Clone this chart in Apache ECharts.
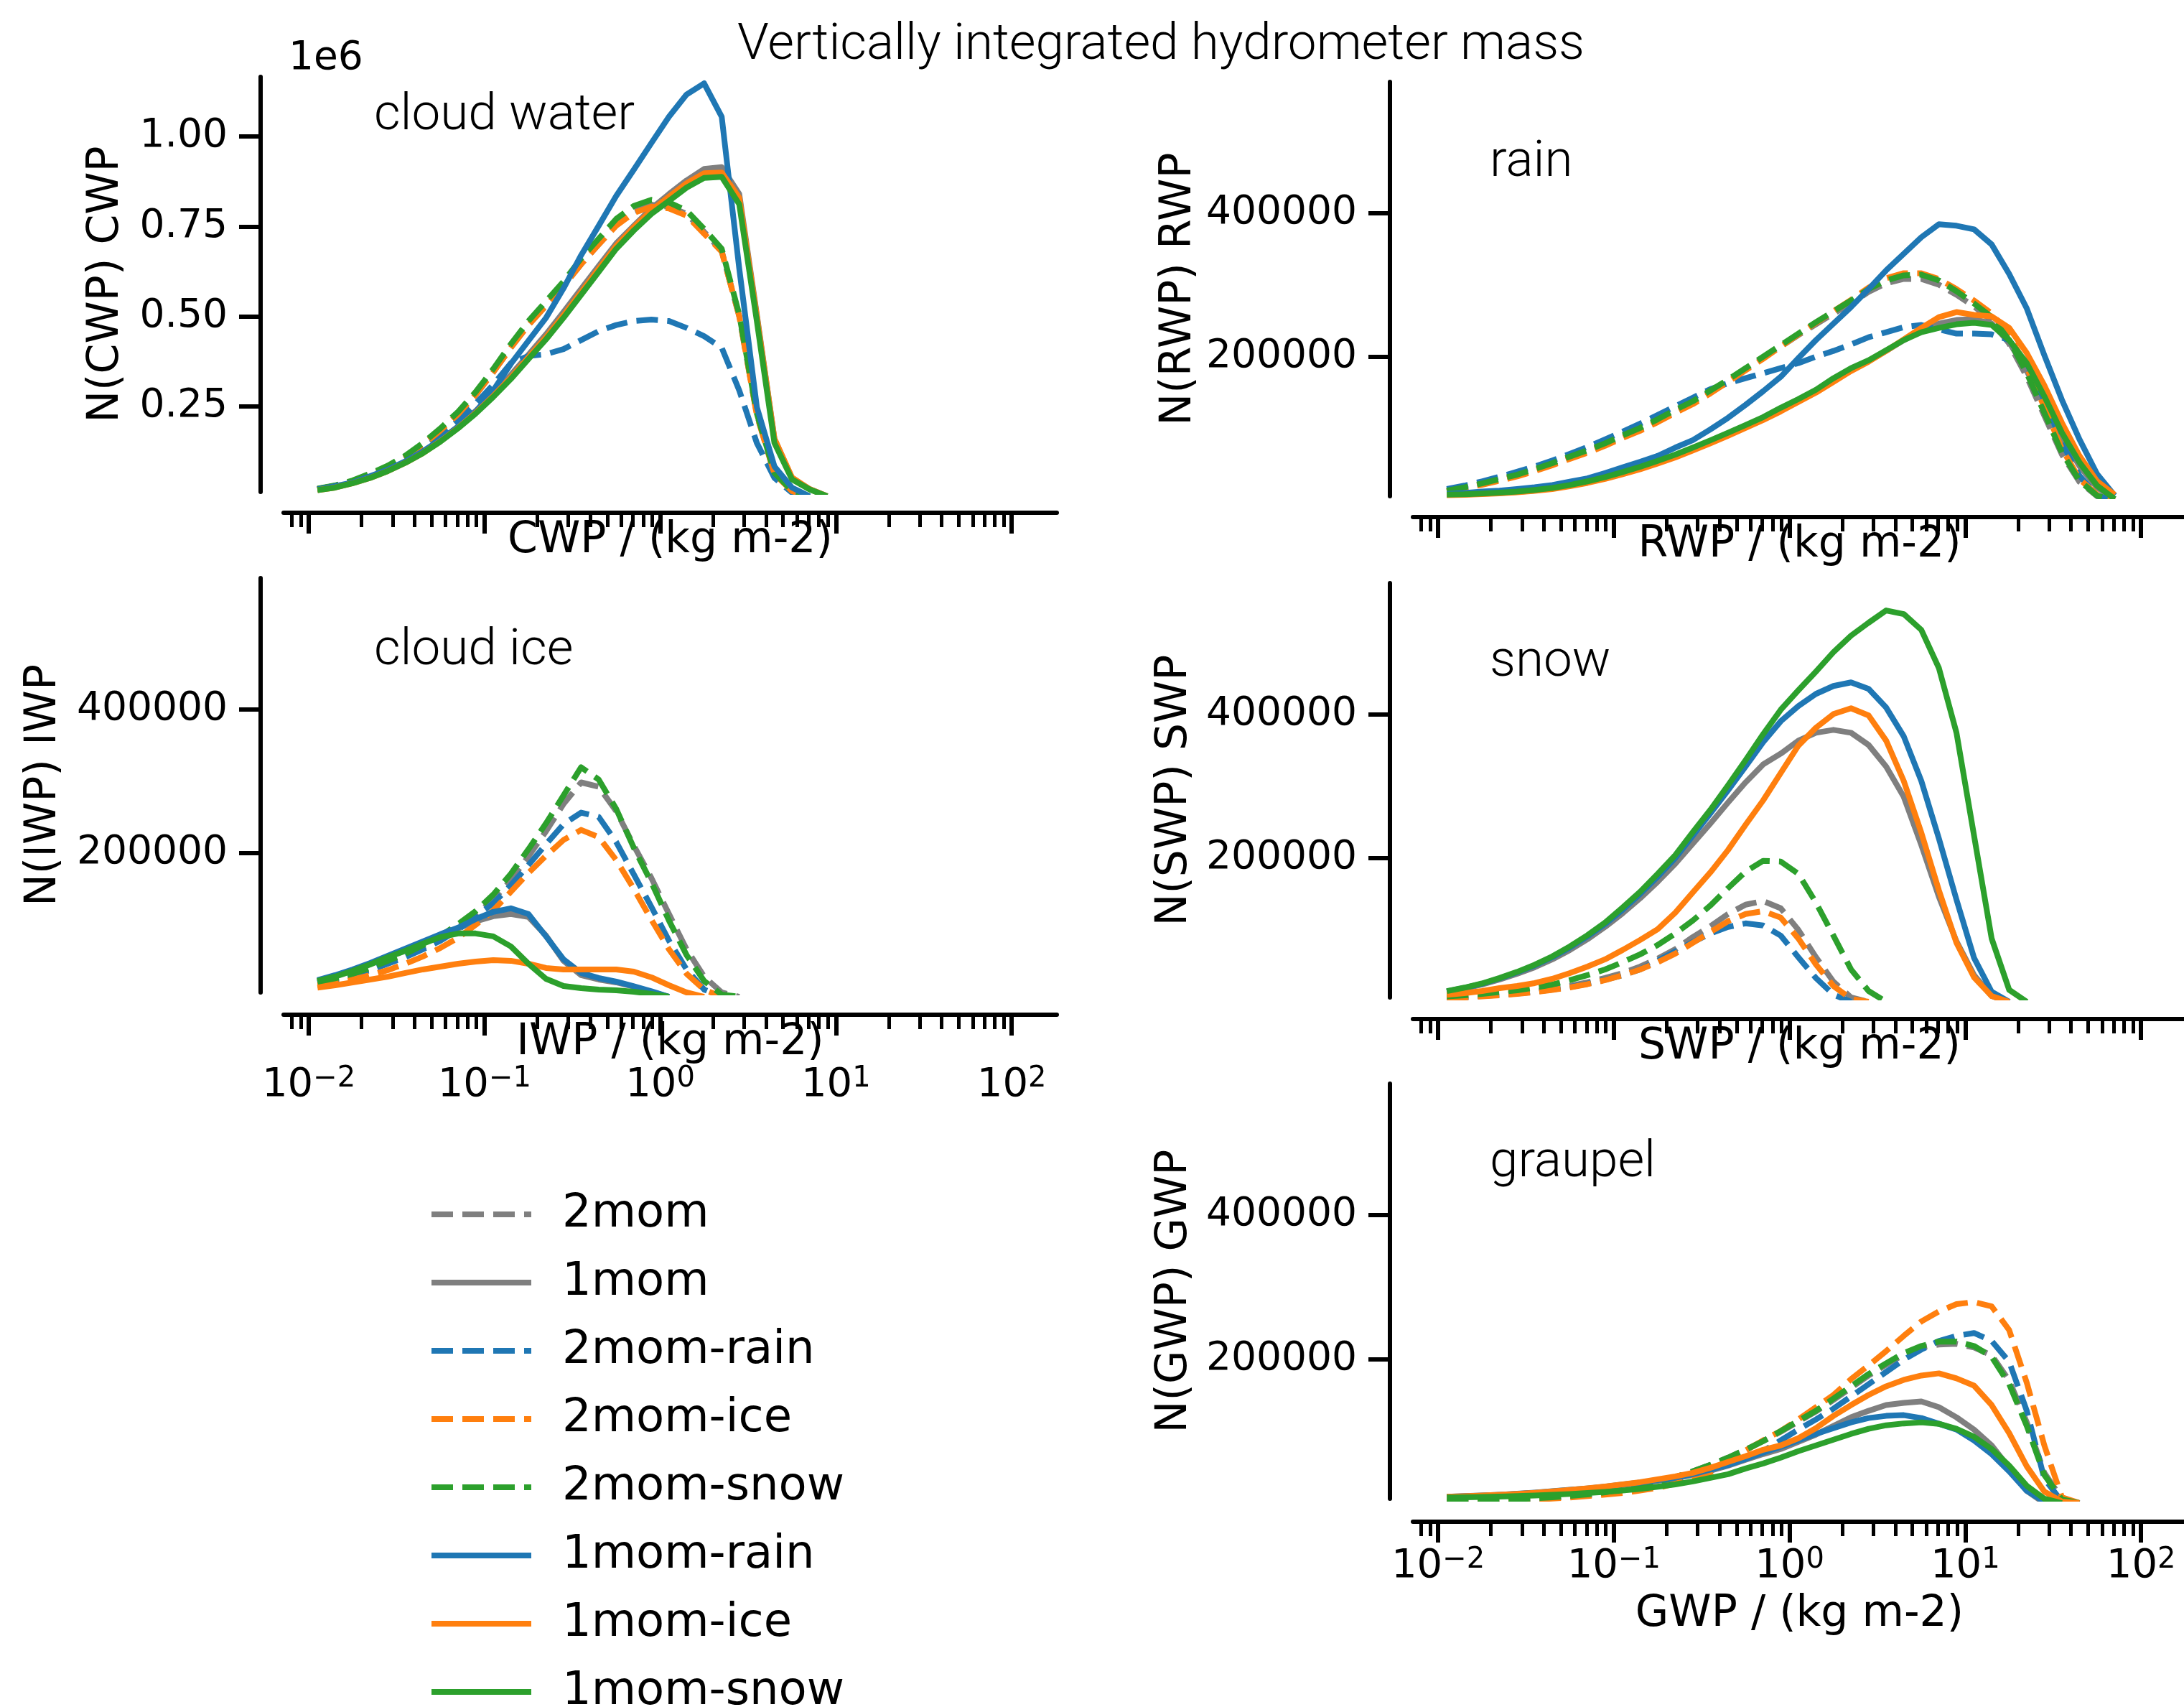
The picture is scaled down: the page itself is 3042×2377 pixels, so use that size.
<!DOCTYPE html>
<html>
<head>
<meta charset="utf-8">
<title>Vertically integrated hydrometer mass</title>
<script src="https://cdn.jsdelivr.net/npm/echarts@6/dist/echarts.min.js"></script>
<style>
  html, body { margin: 0; padding: 0; background: #fff; }
  #chart { width: 3042px; height: 2377px; }
</style>
</head>
<body>
<div id="chart"></div>
<script>
// bin centres in kg m-2 (0.1 decade apart)
const xBins = [0.01122, 0.01413, 0.01778, 0.02239, 0.02818, 0.03548, 0.04467, 0.05623, 0.07079, 0.08913,
  0.1122, 0.1413, 0.1778, 0.2239, 0.2818, 0.3548, 0.4467, 0.5623, 0.7079, 0.8913,
  1.122, 1.413, 1.778, 2.239, 2.818, 3.548, 4.467, 5.623, 7.079, 8.913,
  11.22, 14.13, 17.78, 22.39, 28.18, 35.48, 44.67, 56.23, 70.79];

// counts per bin, in thousands
// cloud water
const cwp2mom = [20, 29, 42, 60, 82, 109, 143, 183, 228, 282, 345, 413, 476, 530, 584, 645, 700, 755, 792, 810, 805, 785, 735, 682, 500, 228, 64, 15, 0];
const cwp1mom = [18, 25, 37, 53, 72, 95, 123, 156, 194, 237, 285, 337, 393, 450, 512, 576, 640, 703, 752, 800, 840, 878, 910, 915, 840, 505, 160, 50, 20, 0];
const cwp2momRain = [20, 29, 41, 58, 78, 103, 133, 168, 210, 258, 310, 370, 390, 395, 409, 434, 459, 476, 487, 491, 487, 468, 445, 413, 294, 148, 51, 10, 0];
const cwp2momIce = [20, 29, 42, 60, 82, 109, 143, 183, 228, 282, 345, 413, 476, 530, 584, 645, 700, 752, 788, 805, 800, 780, 730, 680, 500, 225, 62, 14, 0];
const cwp2momSnow = [21, 30, 44, 63, 85, 113, 148, 189, 235, 290, 354, 423, 487, 542, 597, 661, 716, 771, 807, 824, 817, 794, 743, 688, 505, 230, 65, 15, 0];
const cwp1momRain = [19, 28, 38, 56, 74, 97, 125, 157, 193, 235, 294, 368, 432, 496, 578, 670, 752, 835, 908, 982, 1055, 1117, 1148, 1055, 633, 248, 83, 24, 0];
const cwp1momIce = [17, 24, 36, 51, 70, 93, 120, 153, 190, 232, 279, 330, 386, 442, 503, 567, 632, 696, 748, 795, 833, 870, 898, 900, 830, 500, 160, 52, 20, 0];
const cwp1momSnow = [17, 24, 36, 51, 70, 93, 120, 152, 189, 230, 276, 326, 381, 436, 496, 560, 624, 688, 739, 785, 821, 858, 885, 888, 812, 487, 148, 47, 19, 0];

// rain
const rwp2mom = [13, 17.5, 23, 29, 35, 42.5, 50.5, 59.5, 68, 77.5, 88.5, 99, 111, 124, 136, 151, 166, 182, 198, 214, 230, 245, 260, 274, 290, 302, 308, 308, 300, 286, 270, 250, 218, 172, 118, 64, 26, 6, 0];
const rwp1mom = [8, 8.5, 9.4, 10.6, 12, 14, 17, 21, 26, 31.5, 38, 45, 53, 62, 71.5, 81.5, 92, 103, 114, 126, 139, 152, 167, 182, 194, 208, 223, 236, 246, 251, 252, 246, 220, 180, 135, 88, 48, 18, 2, 0];
const rwp2momRain = [16.1, 20.7, 26.7, 33.1, 40, 47.4, 55.6, 64.8, 74.5, 85, 95.6, 107, 119, 131, 143, 155, 163, 170, 177, 184, 191, 200, 208, 217, 227, 234, 241, 244, 238, 232, 232, 231, 223, 191, 140, 80, 34.5, 6.9, 0];
const rwp2momIce = [12.5, 17, 22, 27.5, 33.5, 41, 49, 58, 66.5, 76, 87, 97, 109, 122, 134, 149, 165, 181, 197, 214, 231, 247, 263, 279, 296, 309, 316, 316, 308, 294, 278, 260, 230, 185, 130, 72, 30, 8, 0];
const rwp2momSnow = [13.8, 18.4, 23.9, 29.9, 35.9, 43.7, 52, 61.2, 69.9, 79.5, 90.6, 101, 113, 126, 138, 153, 168, 184, 200, 216, 232, 248, 263, 278, 294, 306, 313, 314, 306, 291, 274, 255, 223, 177, 122, 66.7, 27.6, 6.9, 0];
const rwp1momRain = [9.2, 10.6, 12.4, 13.8, 16.1, 18.4, 21.6, 26.2, 30.8, 38.2, 46, 53.8, 62, 73.6, 84, 98.9, 115, 133, 152, 172, 198, 223, 246, 269, 294, 320, 343, 366, 384, 382, 377, 356, 315, 267, 202, 140, 85, 37, 7, 0];
const rwp1momIce = [7.5, 8, 9, 10, 11.5, 13.5, 16, 20, 24.5, 30, 36.5, 43.5, 51.5, 60, 69.5, 79.5, 90, 101, 112, 124, 137, 150, 165, 180, 193, 208, 224, 240, 255, 262, 258, 256, 240, 205, 160, 108, 62, 27, 8, 0];
const rwp1momSnow = [8.3, 8.7, 9.7, 11, 12.4, 14.7, 17.5, 21.6, 26.7, 32.6, 39.5, 46.9, 55.2, 63.9, 73.6, 83.7, 94.3, 105, 116, 129, 141, 154, 170, 184, 195, 209, 223, 234, 240, 245, 247, 244, 223, 191, 145, 94.3, 52.9, 20.7, 2.3, 0];

// cloud ice
const iwp2mom = [20, 24.5, 30.5, 38.5, 48, 57.5, 69, 81.5, 97, 114, 135, 162, 195, 230, 268, 298, 292, 258, 210, 165, 115, 66, 28, 6, 0];
const iwp1mom = [22, 29, 37, 46, 56, 66, 76, 86, 95, 105, 112, 115, 111, 85, 50, 30, 24, 20, 14, 7, 0];
const iwp2momRain = [19, 23.5, 29.5, 37, 46, 55, 66, 78, 93, 112, 130, 155, 183, 212, 240, 256, 250, 215, 170, 125, 78, 38, 10, 0];
const iwp2momIce = [16, 19, 24, 30, 37, 46, 56, 68, 82, 100, 120, 146, 172, 196, 218, 232, 222, 190, 150, 107, 66, 32, 10, 0];
const iwp2momSnow = [20.8, 25.7, 32, 40.2, 49.9, 59.6, 71.7, 84.8, 101, 119, 142, 171, 205, 241, 280, 319, 302, 261, 207, 159, 106, 58, 22, 3, 0];
const iwp1momRain = [23, 30, 38, 47, 57, 67, 77, 87, 96, 108, 118, 123, 115, 84, 52, 33, 26, 21, 14.5, 7.7, 0];
const iwp1momIce = [12.6, 16, 20, 24, 28, 33, 38, 42, 46, 49, 51, 50, 46, 40, 38, 38, 38, 38, 35, 27, 16, 6, 0];
const iwp1momSnow = [22, 28, 36, 45, 55, 64, 74, 83, 88, 88, 84, 70, 46, 25, 15, 12, 10, 9, 7, 4, 0];

// snow
const swp2mom = [6, 7, 8.5, 10, 12.5, 15, 18, 22, 27, 33, 40, 49, 60, 73, 90, 105, 122, 135, 140, 130, 100, 62, 28, 6, 0];
const swp1mom = [14, 18.5, 24, 31, 39, 48, 59, 72, 87, 104, 123, 144, 167, 192, 220, 248, 277, 305, 330, 345, 363, 374, 378, 374, 357, 327, 285, 218, 146, 84, 37, 8, 0];
const swp2momRain = [5.5, 6.5, 8, 9.5, 11.5, 14, 17, 20.5, 25, 30.5, 37, 45, 57, 70, 83, 95, 104, 109, 106, 92, 62, 33, 10, 0];
const swp2momIce = [5, 6, 7.5, 9, 11, 13.5, 16.5, 20, 24.5, 30, 37, 45, 55, 67, 82, 97, 112, 122, 126, 117, 88, 52, 22, 4, 0];
const swp2momSnow = [7.6, 9, 11, 13.5, 16, 19.7, 24, 30, 37, 45, 55, 66, 79, 95, 113, 134, 158, 181, 196, 195, 178, 138, 92, 45, 15, 0];
const swp1momRain = [14.5, 19.3, 25, 32.5, 41, 50.5, 62, 75.5, 91, 108, 128, 150, 174, 200, 231, 262, 294, 327, 361, 390, 411, 428, 439, 444, 435, 409, 369, 307, 227, 142, 61, 14, 0];
const swp1momIce = [9.8, 12, 15, 19, 22, 26, 32, 40, 49, 59, 72, 86, 101, 124, 152, 180, 211, 246, 280, 318, 356, 381, 400, 408, 398, 363, 307, 235, 155, 82, 34, 8, 0];
const swp1momSnow = [14.8, 19.7, 25.5, 33.1, 41.6, 51.5, 63.1, 77, 92.6, 110, 131, 153, 178, 204, 236, 267, 301, 336, 372, 406, 433, 459, 486, 509, 527, 544, 539, 517, 464, 374, 231, 88, 16.6, 0];

// graupel
const gwp2mom = [2.5, 3, 3.5, 4.5, 5.5, 6.5, 8, 10, 12, 15, 19, 24, 30, 36, 44, 53, 63, 74, 86, 99, 113, 127, 143, 160, 177, 192, 206, 216, 220, 221, 216, 205, 170, 112, 42, 6, 0];
const gwp1mom = [8.5, 9.3, 10.2, 11.2, 12.5, 14, 15.8, 17.7, 19.6, 22, 24.8, 27.7, 31, 34.5, 39, 45, 52, 60, 68, 75, 85, 95, 107, 119, 128, 136, 139, 141, 133, 119, 102, 80, 49, 17, 0];
const gwp2momRain = [2, 2.5, 3, 3.5, 4.5, 5.5, 7, 9, 11, 14, 18, 22, 27, 32, 38, 45, 53, 62, 72, 87, 102, 116, 131, 148, 165, 182, 199, 213, 225, 232, 236, 225, 196, 128, 34, 2, 0];
const gwp2momIce = [1.4, 2, 2.4, 2.9, 3.9, 4.8, 6.3, 7.7, 9.7, 11.6, 14, 17.4, 21, 27, 34, 42.5, 58, 73, 87, 100, 116, 133, 150, 172, 191, 211, 232, 252, 266, 276, 279, 273, 240, 167, 80, 8, 0];
const gwp2momSnow = [2.5, 3, 3.5, 4.5, 5.5, 6.5, 8, 10, 12, 15, 19, 24, 30, 36, 44, 53, 63, 74, 86, 100, 114, 128, 145, 162, 179, 194, 208, 218, 224, 224, 218, 203, 165, 107, 39, 5, 0];
const gwp1momRain = [8.7, 9.7, 10.6, 11.6, 13, 14.5, 16.4, 18.4, 20.3, 22.7, 25.6, 28.5, 31.9, 35.3, 40, 46.4, 53, 61, 70, 78, 87, 96, 104, 112, 118, 121, 122, 118, 110, 102, 87, 68, 44, 17, 2, 0];
const gwp1momIce = [8.7, 9.6, 10.5, 11.5, 12.8, 14.3, 16.2, 18.3, 20.5, 23, 26, 29, 33, 37, 42, 49, 57, 65, 74, 80, 90, 104, 121, 136, 150, 162, 171, 177, 180, 173, 163, 136, 97, 51, 16, 2, 0];
const gwp1momSnow = [7.7, 8, 8.5, 9, 9.7, 10.6, 11.6, 12.6, 14, 15.5, 17.4, 19.8, 22.7, 26, 30, 35, 40, 48, 55, 63, 72, 80, 88, 96, 103, 108, 110.5, 112, 110, 103, 92, 75, 52, 24, 6, 0];

const runNames = ['2mom', '1mom', '2mom-rain', '2mom-ice', '2mom-snow', '1mom-rain', '1mom-ice', '1mom-snow'];
const runColors = ['#7f7f7f', '#7f7f7f', '#1f77b4', '#ff7f0e', '#2ca02c', '#1f77b4', '#ff7f0e', '#2ca02c'];
const runDashed = [true, false, true, true, true, false, false, false];

const majorTicks = [0.01, 0.1, 1, 10, 100];
const minorTicks = [];
for (let e = -3; e <= 1; e++) {
  for (let k = 2; k <= 9; k++) minorTicks.push(+(k * Math.pow(10, e)).toPrecision(3));
}

const FONT = 'DejaVu Sans';
const LW = 8;
const DASH = [30, 13];

const panels = [
  {
    axisName: 'CWP / (kg m-2)', yName: 'N(CWP) CWP', label: 'cloud water', labelPos: [521, 162],
    grid: { left: 395, top: 107, width: 1077, height: 578 }, xOffset: 29, nameGap: 9, yGap: 185,
    yMin: 12, yMax: 1166, yTicks: [250, 500, 750, 1000], yFmt: v => (v / 1000).toFixed(2),
    xLabels: false,
    values: [cwp2mom, cwp1mom, cwp2momRain, cwp2momIce, cwp2momSnow, cwp1momRain, cwp1momIce, cwp1momSnow]
  },
  {
    axisName: 'RWP / (kg m-2)', yName: 'N(RWP) RWP', label: 'rain', labelPos: [2075, 227],
    grid: { left: 1968, top: 114, width: 1077, height: 577 }, xOffset: 29, nameGap: 9, yGap: 264,
    yMin: 6, yMax: 582, yTicks: [200, 400], yFmt: v => String(Math.round(v * 1000)),
    xLabels: false,
    values: [rwp2mom, rwp1mom, rwp2momRain, rwp2momIce, rwp2momSnow, rwp1momRain, rwp1momIce, rwp1momSnow]
  },
  {
    axisName: 'IWP / (kg m-2)', yName: 'N(IWP) IWP', label: 'cloud ice', labelPos: [521, 907],
    grid: { left: 395, top: 805, width: 1077, height: 577 }, xOffset: 31, nameGap: 9, yGap: 272,
    yMin: 6, yMax: 582, yTicks: [200, 400], yFmt: v => String(Math.round(v * 1000)),
    xLabels: true, labelMargin: 70,
    values: [iwp2mom, iwp1mom, iwp2momRain, iwp2momIce, iwp2momSnow, iwp1momRain, iwp1momIce, iwp1momSnow]
  },
  {
    axisName: 'SWP / (kg m-2)', yName: 'N(SWP) SWP', label: 'snow', labelPos: [2075, 923],
    grid: { left: 1968, top: 812, width: 1077, height: 577 }, xOffset: 30, nameGap: 9, yGap: 270,
    yMin: 6, yMax: 582, yTicks: [200, 400], yFmt: v => String(Math.round(v * 1000)),
    xLabels: false,
    values: [swp2mom, swp1mom, swp2momRain, swp2momIce, swp2momSnow, swp1momRain, swp1momIce, swp1momSnow]
  },
  {
    axisName: 'GWP / (kg m-2)', yName: 'N(GWP) GWP', label: 'graupel', labelPos: [2075, 1620],
    grid: { left: 1968, top: 1509, width: 1077, height: 578 }, xOffset: 32, nameGap: 99, yGap: 270,
    yMin: 6, yMax: 582, yTicks: [200, 400], yFmt: v => String(Math.round(v * 1000)),
    xLabels: true, labelMargin: 34,
    values: [gwp2mom, gwp1mom, gwp2momRain, gwp2momIce, gwp2momSnow, gwp1momRain, gwp1momIce, gwp1momSnow]
  }
];

const xMin = 0.007194;   // 10^-2.143
const xMax = 180.7;      // 10^2.257

function expLabel(v) {
  const e = Math.round(Math.log10(v));
  return '{b|10}{s|' + (e < 0 ? '\u2212' + (-e) : e) + '}';
}

const grids = [];
const xAxes = [];
const yAxes = [];
const series = [];
const graphics = [];

panels.forEach((p, i) => {
  grids.push(Object.assign({ outerBoundsMode: 'none', containLabel: false }, p.grid));

  // major ticks, labels and the spine
  xAxes.push({
    type: 'log', gridIndex: i, min: xMin, max: xMax, position: 'bottom', offset: p.xOffset,
    axisLine: { show: true, onZero: false, lineStyle: { color: '#000', width: 6 } },
    axisTick: { show: true, length: 29, customValues: majorTicks, lineStyle: { color: '#000', width: 6 } },
    axisLabel: {
      show: p.xLabels, customValues: majorTicks, margin: p.labelMargin || 36,
      formatter: expLabel,
      rich: {
        b: { fontSize: 56, fontFamily: FONT, color: '#000', lineHeight: 56 },
        s: { fontSize: 40, fontFamily: FONT, color: '#000', lineHeight: 6, verticalAlign: 'top' }
      }
    },
    splitLine: { show: false },
    name: p.axisName, nameLocation: 'middle', nameGap: p.nameGap, nameMoveOverlap: false,
    nameTextStyle: { fontSize: 60, fontFamily: FONT, color: '#000' }
  });
  // minor ticks
  xAxes.push({
    type: 'log', gridIndex: i, min: xMin, max: xMax, position: 'bottom', offset: p.xOffset,
    axisLine: { show: false },
    axisTick: { show: true, length: 20, customValues: minorTicks, lineStyle: { color: '#000', width: 5 } },
    axisLabel: { show: false },
    splitLine: { show: false }
  });

  yAxes.push({
    type: 'value', gridIndex: i, min: p.yMin, max: p.yMax, position: 'left', offset: 32,
    axisLine: { show: true, onZero: false, lineStyle: { color: '#000', width: 6 } },
    axisTick: { show: true, length: 30, customValues: p.yTicks, lineStyle: { color: '#000', width: 6 } },
    axisLabel: {
      customValues: p.yTicks, margin: 46, formatter: p.yFmt,
      fontSize: 55, fontFamily: FONT, color: '#000'
    },
    splitLine: { show: false },
    name: p.yName, nameLocation: 'middle', nameGap: p.yGap, nameMoveOverlap: false,
    nameTextStyle: { fontSize: 60, fontFamily: FONT, color: '#000' }
  });

  p.values.forEach((vals, r) => {
    series.push({
      type: 'line', name: runNames[r], xAxisIndex: 2 * i, yAxisIndex: i,
      data: vals.map((v, j) => [xBins[j], v]),
      symbol: 'none', showSymbol: false, clip: true, smooth: false,
      color: runColors[r],
      lineStyle: { color: runColors[r], width: LW, type: runDashed[r] ? DASH : 'solid', join: 'round', cap: 'butt' },
      emphasis: { disabled: true }
    });
  });

  graphics.push({
    type: 'text', x: p.labelPos[0], y: p.labelPos[1],
    style: { text: p.label, fontSize: 71, fontFamily: 'Roboto', fontWeight: 300, fill: '#000',
      align: 'left', verticalAlign: 'middle' }
  });
});

graphics.push({
  type: 'text', x: 1617, y: 64,
  style: { text: 'Vertically integrated hydrometer mass', fontSize: 71, fontFamily: 'Roboto', fontWeight: 300,
    fill: '#000', align: 'center', verticalAlign: 'middle' }
});
graphics.push({
  type: 'text', x: 402, y: 82,
  style: { text: '1e6', fontSize: 55, fontFamily: FONT, fill: '#000', align: 'left', verticalAlign: 'middle' }
});

const chart = echarts.init(document.getElementById('chart'), null, { renderer: 'canvas' });
chart.setOption({
  animation: false,
  backgroundColor: '#fff',
  textStyle: { fontFamily: FONT },
  grid: grids,
  xAxis: xAxes,
  yAxis: yAxes,
  series: series,
  graphic: graphics,
  legend: {
    orient: 'vertical', left: 592, top: 1654, height: 900,
    itemWidth: 139, itemHeight: 20, itemGap: 31,
    selectedMode: false,
    data: runNames,
    itemStyle: { color: 'rgba(0,0,0,0)', borderWidth: 0, opacity: 0 },
    lineStyle: { width: LW },
    textStyle: { fontSize: 64, fontFamily: FONT, color: '#000', lineHeight: 64, padding: [0, 0, 0, 38] }
  }
});
</script>
</body>
</html>
